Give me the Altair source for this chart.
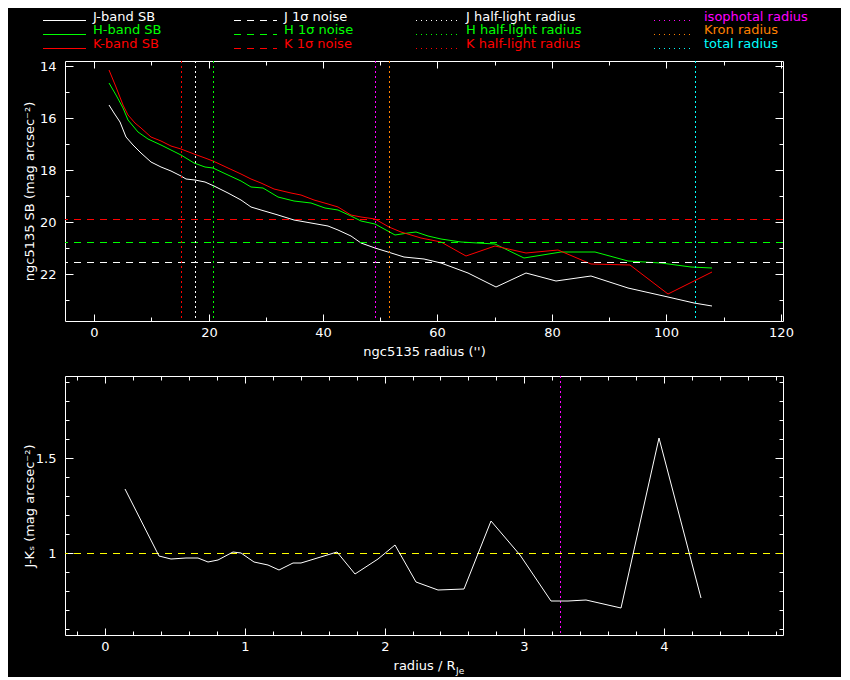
import altair as alt
import pandas as pd

FONT = "DejaVu Sans"
WHITE, GREEN, RED = "#ffffff", "#00ff00", "#ff0000"
MAGENTA, ORANGE, CYAN, YELLOW = "#ff00ff", "#ff8000", "#00ffff", "#ffff00"

# ---------------- data ----------------
j_r = [2.57, 3.55, 4.6, 5.6, 6.77, 8.2, 9.97, 11.7, 13.5, 15.1, 16.1, 17.7, 19.3, 21.0,
       23.4, 25.7, 27.4, 29.2, 32.1, 35.0, 37.9, 40.9, 42.6, 44.9, 46.7, 49.0, 51.3,
       54.2, 57.7, 60.7, 65.3, 70.3, 75.4, 80.8, 86.9, 93.3, 100.3, 104.9, 108.0]
j_sb = [15.5, 15.82, 16.14, 16.72, 17.04, 17.36, 17.68, 17.87, 18.06, 18.23, 18.36, 18.38,
        18.47, 18.62, 18.9, 19.15, 19.41, 19.54, 19.73, 19.92, 20.05, 20.14, 20.31, 20.56,
        20.82, 21.0, 21.17, 21.33, 21.42, 21.59, 21.97, 22.51, 21.97, 22.27, 22.07, 22.55,
        22.87, 23.1, 23.23]

h_r = [2.57, 3.85, 5.0, 5.9, 7.6, 9.4, 11.7, 13.5, 15.1, 17.5, 19.3, 20.7, 23.4, 25.7,
       27.4, 29.5, 32.1, 35.0, 37.9, 40.3, 42.6, 44.9, 46.7, 49.0, 51.0, 52.5, 54.8, 56.3,
       58.3, 60.7, 64.2, 70.0, 75.2, 81.6, 87.5, 93.3, 99.1, 104.4, 108.0]
h_sb = [14.67, 15.12, 15.63, 16.08, 16.53, 16.82, 17.04, 17.23, 17.42, 17.74, 17.87, 17.91,
        18.19, 18.41, 18.64, 18.7, 19.03, 19.18, 19.28, 19.45, 19.54, 19.77, 19.95, 20.09,
        20.31, 20.5, 20.43, 20.4, 20.53, 20.67, 20.76, 20.86, 21.4, 21.17, 21.17, 21.49,
        21.59, 21.72, 21.78]

k_r = [2.57, 3.85, 5.0, 5.9, 7.05, 8.2, 10.0, 11.7, 13.5, 15.1, 17.5, 19.3, 20.7, 23.4,
       25.7, 27.4, 29.2, 31.5, 34.4, 36.2, 38.5, 40.9, 42.6, 44.9, 46.7, 49.0, 51.6, 53.7,
       57.2, 60.7, 65.0, 70.0, 75.5, 81.1, 86.9, 93.6, 100.3, 108.0]
k_sb = [14.15, 14.8, 15.5, 15.88, 16.2, 16.4, 16.74, 16.87, 17.08, 17.2, 17.4, 17.55, 17.64,
        17.93, 18.15, 18.36, 18.51, 18.74, 18.87, 18.96, 19.15, 19.31, 19.43, 19.73, 19.8,
        19.88, 20.18, 20.4, 20.63, 20.78, 21.3, 20.91, 21.2, 21.08, 21.63, 21.67, 22.77, 21.91]

noise_sb = [21.55, 20.78, 19.90]          # J, H, K 1-sigma noise
noise_colors = [WHITE, GREEN, RED]

vline_r = [17.7, 20.7, 15.1, 49.0, 51.6, 105.1]   # J/H/K half-light, isophotal, Kron, total
vline_colors = [WHITE, GREEN, RED, MAGENTA, ORANGE, CYAN]

jk_x = [0.145, 0.389, 0.472, 0.58, 0.663, 0.74, 0.807, 0.914, 0.974, 1.069, 1.164, 1.248,
        1.344, 1.403, 1.661, 1.79, 1.952, 2.071, 2.222, 2.382, 2.565, 2.758, 2.966, 3.188,
        3.312, 3.443, 3.689, 3.961, 4.262]
jk_y = [1.338, 0.987, 0.968, 0.977, 0.975, 0.953, 0.965, 1.008, 1.003, 0.953, 0.938, 0.912,
        0.947, 0.951, 1.008, 0.891, 0.968, 1.044, 0.851, 0.807, 0.812, 1.172, 0.991, 0.75,
        0.75, 0.754, 0.71, 1.61, 0.766]
jk_ref = [1.0]
iso_norm = [3.252]

# ticks
x_top_major = [0, 20, 40, 60, 80, 100, 120]
x_top_minor = [10, 30, 50, 70, 90, 110]
y_top_major = [14, 16, 18, 20, 22]
y_top_minor = [15, 17, 19, 21, 23]
x_bot_major = [0, 1, 2, 3, 4]
x_bot_minor = [-0.2, 0.2, 0.4, 0.6, 0.8, 1.2, 1.4, 1.6, 1.8, 2.2, 2.4, 2.6, 2.8,
               3.2, 3.4, 3.6, 3.8, 4.2, 4.4, 4.6, 4.8]
y_bot_major = [1.0, 1.5]
y_bot_minor = [0.6, 0.7, 0.8, 0.9, 1.1, 1.2, 1.3, 1.4, 1.6, 1.7, 1.8, 1.9]

# legend
leg_labels = ["J-band SB", "H-band SB", "K-band SB",
              "J 1σ noise", "H 1σ noise", "K 1σ noise",
              "J half-light radius", "H half-light radius", "K half-light radius",
              "isophotal radius", "Kron radius", "total radius"]
leg_colors = [WHITE, GREEN, RED, WHITE, GREEN, RED, WHITE, GREEN, RED, MAGENTA, ORANGE, CYAN]
leg_col = [0, 0, 0, 1, 1, 1, 2, 2, 2, 3, 3, 3]
leg_row = [0, 1, 2] * 4

# ---------------- layout constants ----------------
W = 718
COL_SAMPLE_X = [-22, 169, 351, 589]
COL_TEXT_X = [28, 219, 401, 639]
SAMPLE_LEN = [43, 43, 42, 40]
ROW_BASE = [12.5, 26.2, 40.0]
ROW_LINE = [12.5, 26.5, 40.5]


def ax(orient, values, size, labels=False, title=None, label_pad=0, title_pad=0, fmt=None):
    kw = dict(orient=orient, values=values, tickSize=size, offset=-size, domain=False,
              grid=False, ticks=True, tickColor="white", tickWidth=1, labels=labels)
    if labels:
        kw.update(labelPadding=label_pad, labelFlush=False, labelOverlap=False,
                  labelColor="white", labelFont=FONT, labelFontSize=13)
        if fmt:
            kw["format"] = fmt
    if title:
        kw.update(title=title, titlePadding=title_pad, titleColor="white", titleFont=FONT,
                  titleFontSize=13, titleFontWeight="normal")
    else:
        kw["title"] = None
    return alt.Axis(**kw)


# ---------------- top panel ----------------
xs = alt.Scale(domain=[-5.1, 120.4], nice=False, zero=False, round=True)
ys = alt.Scale(domain=[13.81, 23.81], reverse=True, nice=False, zero=False, round=True)

dfJ = pd.DataFrame({"r": j_r, "sb": j_sb})
dfH = pd.DataFrame({"r": h_r, "sb": h_sb})
dfK = pd.DataFrame({"r": k_r, "sb": k_sb})
dfN = pd.DataFrame({"sb": noise_sb, "color": noise_colors})
dfV = pd.DataFrame({"r": vline_r, "color": vline_colors})

lineJ = alt.Chart(dfJ).mark_line(color=WHITE, strokeWidth=1).encode(
    x=alt.X("r:Q", scale=xs, axis=ax("bottom", x_top_major, 7, labels=True, label_pad=5)),
    y=alt.Y("sb:Q", scale=ys, axis=ax("left", y_top_major, 8, labels=True, label_pad=9)),
)
lineH = alt.Chart(dfH).mark_line(color=GREEN, strokeWidth=1).encode(
    x=alt.X("r:Q", scale=xs, axis=ax("bottom", x_top_minor, 4, title="ngc5135 radius ('')", title_pad=24)),
    y=alt.Y("sb:Q", scale=ys, axis=ax("left", y_top_minor, 4, title="ngc5135 SB (mag arcsec⁻²)", title_pad=28)),
)
lineK = alt.Chart(dfK).mark_line(color=RED, strokeWidth=1).encode(
    x=alt.X("r:Q", scale=xs, axis=ax("top", x_top_major, 7)),
    y=alt.Y("sb:Q", scale=ys, axis=ax("right", y_top_major, 8)),
)
ghostT = alt.Chart(dfJ).mark_line(opacity=0).encode(
    x=alt.X("r:Q", scale=xs, axis=ax("top", x_top_minor, 4)),
    y=alt.Y("sb:Q", scale=ys, axis=ax("right", y_top_minor, 4)),
)
noise = alt.Chart(dfN).mark_rule(strokeDash=[7, 6], strokeWidth=1, yOffset=0.5).encode(
    y=alt.Y("sb:Q", scale=ys, axis=None),
    color=alt.Color("color:N", scale=None),
)
vlines = alt.Chart(dfV).mark_rule(strokeDash=[2, 3], strokeWidth=1, xOffset=0.5).encode(
    x=alt.X("r:Q", scale=xs, axis=None),
    color=alt.Color("color:N", scale=None),
)

top = alt.layer(ghostT, lineJ, lineH, lineK, noise, vlines).resolve_axis(
    x="independent", y="independent"
).properties(width=W, height=260, view=alt.ViewBackground(stroke="white", strokeWidth=1))

# ---------------- bottom panel ----------------
xb = alt.Scale(domain=[-0.286, 4.85], nice=False, zero=False, round=True)
yb = alt.Scale(domain=[0.570, 1.934], nice=False, zero=False, round=True)

dfC = pd.DataFrame({"x": jk_x, "y": jk_y})
dfR = pd.DataFrame({"v": jk_ref})
dfI = pd.DataFrame({"v": iso_norm})

jk = alt.Chart(dfC).mark_line(color=WHITE, strokeWidth=1).encode(
    x=alt.X("x:Q", scale=xb, axis=ax("bottom", x_bot_major, 7, labels=True, label_pad=5, fmt="d")),
    y=alt.Y("y:Q", scale=yb, axis=ax("left", y_bot_major, 8, labels=True, label_pad=9, fmt="~g")),
)
ghostB1 = alt.Chart(dfC).mark_line(opacity=0).encode(
    x=alt.X("x:Q", scale=xb, axis=ax("top", x_bot_major, 7)),
    y=alt.Y("y:Q", scale=yb, axis=ax("right", y_bot_major, 8)),
)
ghostB2 = alt.Chart(dfC).mark_line(opacity=0).encode(
    x=alt.X("x:Q", scale=xb, axis=ax("top", x_bot_minor, 4)),
    y=alt.Y("y:Q", scale=yb, axis=ax("right", y_bot_minor, 4)),
)
ref = alt.Chart(dfR).mark_rule(color=YELLOW, strokeDash=[7, 6], strokeWidth=1, yOffset=0.5).encode(
    y=alt.Y("v:Q", scale=yb, axis=ax("left", y_bot_minor, 4, title="J-Kₛ (mag arcsec⁻²)", title_pad=28)),
)
iso = alt.Chart(dfI).mark_rule(color=MAGENTA, strokeDash=[2, 3], strokeWidth=1, xOffset=0.5).encode(
    x=alt.X("v:Q", scale=xb, axis=ax("bottom", x_bot_minor, 4, title="radius / R", title_pad=24)),
)
sub = alt.Chart(pd.DataFrame({"t": ["Je"]})).mark_text(
    color=WHITE, font=FONT, fontSize=9, align="left", baseline="alphabetic"
).encode(x=alt.value(391), y=alt.value(298), text="t:N")

bottom = alt.layer(ghostB1, ghostB2, ref, iso, jk, sub).resolve_axis(
    x="independent", y="independent"
).properties(width=W, height=259, view=alt.ViewBackground(stroke="white", strokeWidth=1))

# ---------------- legend ----------------
leg = pd.DataFrame({"label": leg_labels, "color": leg_colors, "col": leg_col, "row": leg_row})
leg["x0"] = [COL_SAMPLE_X[c] for c in leg["col"]]
leg["x1"] = [COL_SAMPLE_X[c] + SAMPLE_LEN[c] for c in leg["col"]]
leg["tx"] = [COL_TEXT_X[c] for c in leg["col"]]
leg["ty"] = [ROW_BASE[r] for r in leg["row"]]
leg["ly"] = [ROW_LINE[r] for r in leg["row"]]


def leg_rules(df, dash=None):
    kw = {"strokeWidth": 1}
    if dash:
        kw["strokeDash"] = dash
    return alt.Chart(df).mark_rule(**kw).encode(
        x=alt.X("x0:Q", scale=None, axis=None),
        x2="x1:Q",
        y=alt.Y("ly:Q", scale=None, axis=None),
        color=alt.Color("color:N", scale=None),
    )


leg_solid = leg_rules(leg[leg["col"] == 0])
leg_dash = leg_rules(leg[leg["col"] == 1], [7, 6])
leg_dot = leg_rules(leg[leg["col"] >= 2], [1, 4])
leg_text = alt.Chart(leg).mark_text(
    font=FONT, fontSize=13, align="left", baseline="alphabetic"
).encode(
    x=alt.X("tx:Q", scale=None, axis=None),
    y=alt.Y("ty:Q", scale=None, axis=None),
    text="label:N",
    color=alt.Color("color:N", scale=None),
)
legend = alt.layer(leg_solid, leg_dash, leg_dot, leg_text).properties(width=W, height=44)

chart = alt.vconcat(
    legend,
    alt.vconcat(top, bottom, spacing=55, bounds="flush"),
    spacing=9,
    bounds="flush",
).properties(
    padding={"left": 15, "top": 0, "right": 33, "bottom": 0}
).configure(
    background="black", font=FONT
).configure_view(stroke=None)

chart.save("out.html", embed_options={"renderer": "svg", "actions": False})
